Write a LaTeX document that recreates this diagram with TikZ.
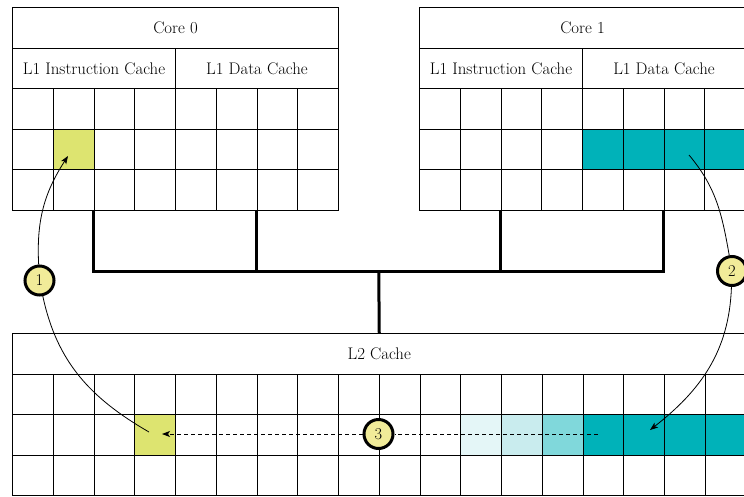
\documentclass[tikz,border=0pt]{standalone}
\usepackage{fontspec}
\usetikzlibrary{arrows.meta}
\definecolor{ycell}{RGB}{221,228,112}
\definecolor{tealc}{RGB}{0,178,185}
\definecolor{tlA}{RGB}{228,246,247}
\definecolor{tlB}{RGB}{201,236,238}
\definecolor{tlC}{RGB}{128,216,219}
\definecolor{circ}{RGB}{241,235,153}
\begin{document}
\begin{tikzpicture}[x=1pt,y=-1pt,
  hdr/.style={draw, line width=1pt, minimum height=40.6pt, inner sep=0pt, anchor=north west, font=\fontsize{16.8}{19}\selectfont},
  cell/.style={draw, line width=1pt, minimum width=40.75pt, minimum height=40.6pt, inner sep=0pt, anchor=north west},
  bus/.style={line width=3pt, line join=miter},
  num/.style={circle, draw, line width=3pt, fill=circ, minimum size=29pt, inner sep=0pt, font=\fontsize{16.5}{19}\selectfont},
  link/.style={line width=0.8pt},
  tip/.style={-{Stealth[length=8pt,width=6pt,inset=2pt]}}
]
\useasboundingbox (0,0) rectangle (744,496);
\def\cw{40.75}
\def\rh{40.6}
% Core 0
\node[hdr, minimum width=326pt] (core0) at (12,7) {Core 0};
\node[hdr, minimum width=163pt] (l1i0) at (12,47.6) {L1 Instruction Cache};
\node[hdr, minimum width=163pt] (l1d0) at (175,47.6) {L1 Data Cache};
\foreach \r in {0,1,2} \foreach \c in {0,...,7}
  \node[cell] (c0-\r-\c) at ({12+\c*\cw},{88.2+\r*\rh}) {};
\node[cell, fill=ycell] (c0y) at ({12+1*\cw},{88.2+1*\rh}) {};
% Core 1
\node[hdr, minimum width=326pt] (core1) at (419,7) {Core 1};
\node[hdr, minimum width=163pt] (l1i1) at (419,47.6) {L1 Instruction Cache};
\node[hdr, minimum width=163pt] (l1d1) at (582,47.6) {L1 Data Cache};
\foreach \r in {0,1,2} \foreach \c in {0,...,7}
  \node[cell] (c1-\r-\c) at ({419+\c*\cw},{88.2+\r*\rh}) {};
\foreach \c in {4,...,7}
  \node[cell, fill=tealc] (c1t-\c) at ({419+\c*\cw},{88.2+1*\rh}) {};
% L2
\node[hdr, minimum width=733.5pt] (l2) at (12,333) {L2 Cache};
\foreach \r in {0,1,2} \foreach \c in {0,...,17}
  \node[cell] (l2-\r-\c) at ({12+\c*\cw},{373.6+\r*\rh}) {};
\node[cell, fill=ycell] (l2y) at ({12+3*\cw},{373.6+1*\rh}) {};
\node[cell, fill=tlA] (l2a) at ({12+11*\cw},{373.6+1*\rh}) {};
\node[cell, fill=tlB] (l2b) at ({12+12*\cw},{373.6+1*\rh}) {};
\node[cell, fill=tlC] (l2c) at ({12+13*\cw},{373.6+1*\rh}) {};
\foreach \c in {14,...,17}
  \node[cell, fill=tealc] (l2t-\c) at ({12+\c*\cw},{373.6+1*\rh}) {};
% Bus
\coordinate (bus) at (378.75,271.5);
\draw[bus] (c0-2-2.south west) |- (bus) -| (c1-2-6.south west);
\draw[bus] (c0-2-6.south west) -- (c0-2-6.south west |- bus);
\draw[bus] (c1-2-2.south west) -- (c1-2-2.south west |- bus);
\draw[bus] (bus) -- (l2.north);
% step markers
\node[num] (n1) at (39.5,280.5) {1};
\node[num] (n2) at (732,271) {2};
\node[num] (n3) at (378.5,434) {3};
% arrow 1
\coordinate (s1) at (149,432);
\coordinate (e1) at (68,156);
\draw[link] (s1) to[out=150,in=-78] (n1);
\draw[link,tip] (n1) to[out=93,in=237] (e1);
% arrow 2
\coordinate (s2) at (689,155);
\coordinate (e2) at (650,430);
\draw[link] (s2) to[out=-50,in=100] (n2);
\draw[link,tip] (n2) to[out=-92,in=38] (e2);
% arrow 3
\coordinate (s3) at (598,434);
\coordinate (e3) at (162,434);
\draw[link, dash pattern=on 4pt off 3pt] (s3) -- (n3);
\draw[link, tip, dash pattern=on 4pt off 3pt] (n3) -- (e3);
\end{tikzpicture}
\end{document}
